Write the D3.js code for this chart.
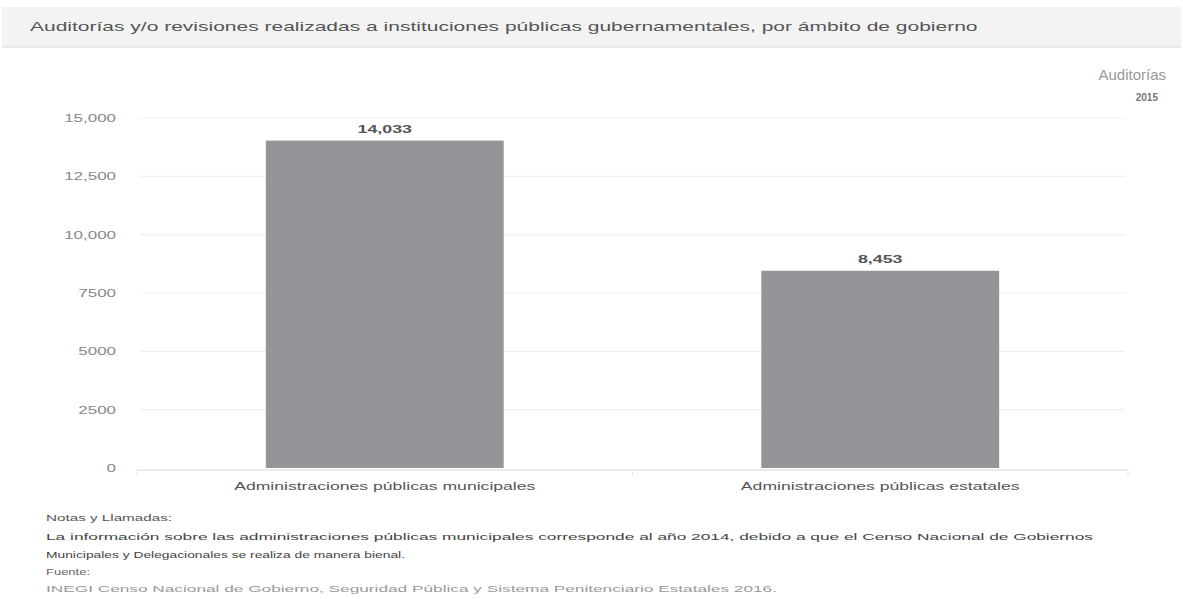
<!DOCTYPE html>
<html>
<head>
<meta charset="utf-8">
<script src="https://cdn.jsdelivr.net/npm/d3@7"></script>
<style>
  html, body { margin: 0; padding: 0; background: #fff; }
  svg { display: block; font-family: "Liberation Sans", Arial, sans-serif; }
</style>
</head>
<body>
<svg id="chart" width="1183" height="599"></svg>
<script>
const title = "Auditorías y/o revisiones realizadas a instituciones públicas gubernamentales, por ámbito de gobierno";
const categories = ["Administraciones públicas municipales", "Administraciones públicas estatales"];
const values = [14033, 8453];
const yTicks = [0, 2500, 5000, 7500, 10000, 12500, 15000];
const yTickLabels = ["0", "2500", "5000", "7500", "10,000", "12,500", "15,000"];
const unitLabel = "Auditorías";
const yearLabel = "2015";
const notes = [
  "Notas y Llamadas:",
  "La información sobre las administraciones públicas municipales corresponde al año 2014, debido a que el Censo Nacional de Gobiernos",
  "Municipales y Delegacionales se realiza de manera bienal.",
  "Fuente:",
  "INEGI Censo Nacional de Gobierno, Seguridad Pública y Sistema Penitenciario Estatales 2016."
];

// ---- layout / style (not data) ----
const noteColors = ["#555", "#444", "#444", "#666", "#9a9a9a"];
const noteWidths = [126, 1047, 359, 44, 731];
const noteYs = [521, 540, 558, 575, 592];

const svg = d3.select("#chart");

// horizontal stretch helper (reference text is wide)
function stretch(sel, factor) {
  sel.each(function() {
    const w = this.getComputedTextLength();
    d3.select(this).attr("textLength", w * factor).attr("lengthAdjust", "spacingAndGlyphs");
  });
}

// Title bar
svg.append("rect").attr("x", 2).attr("y", 7).attr("width", 1179).attr("height", 40).attr("fill", "#f3f3f3");
svg.append("line").attr("x1", 2).attr("x2", 1181).attr("y1", 47).attr("y2", 47).attr("stroke", "#e4e4e4").attr("stroke-width", 1.5);
svg.append("text").attr("x", 30).attr("y", 31).attr("font-size", 13.5).attr("fill", "#555").text(title)
  .call(stretch, 1.555);

// Unit labels
svg.append("text").attr("x", 1166).attr("y", 80).attr("text-anchor", "end").attr("font-size", 15).attr("fill", "#999").text(unitLabel);
svg.append("text").attr("x", 1158).attr("y", 101).attr("text-anchor", "end").attr("font-size", 10).attr("font-weight", "bold").attr("fill", "#777").text(yearLabel);

const x = d3.scaleBand().domain(categories).range([137, 1128]).paddingInner(0.52).paddingOuter(0.26);
const y = d3.scaleLinear().domain([0, 15000]).range([468, 118]);

// Grid
svg.append("g").selectAll("line").data(yTicks.filter(d => d > 0)).join("line")
  .attr("x1", 140).attr("x2", 1125)
  .attr("y1", d => y(d)).attr("y2", d => y(d))
  .attr("stroke", "#f0f0f0").attr("stroke-width", 1.2);

// Y axis labels
const yAxis = d3.axisLeft(y).tickValues(yTicks).tickFormat((d, i) => yTickLabels[i]).tickSize(0).tickPadding(0);
const gy = svg.append("g").attr("transform", "translate(116,0)").call(yAxis);
gy.select(".domain").remove();
gy.selectAll("text").attr("font-size", 11).attr("fill", "#888").attr("font-family", "'Liberation Sans', Arial, sans-serif")
  .call(stretch, 1.54);

// Bars
svg.append("g").selectAll("rect").data(values).join("rect")
  .attr("x", (d, i) => x(categories[i]))
  .attr("y", d => y(d))
  .attr("width", x.bandwidth())
  .attr("height", d => y(0) - y(d))
  .attr("fill", "#949599");

// Value labels
svg.append("g").selectAll("text").data(values).join("text")
  .attr("x", (d, i) => x(categories[i]) + x.bandwidth() / 2)
  .attr("y", d => y(d) - 8)
  .attr("text-anchor", "middle").attr("font-size", 11).attr("font-weight", "bold").attr("fill", "#555")
  .text(d => d3.format(",")(d))
  .call(stretch, 1.62);

// X axis
const axisY = 470;
svg.append("line").attr("x1", 137).attr("x2", 1128).attr("y1", axisY).attr("y2", axisY).attr("stroke", "#e6e6e6").attr("stroke-width", 1.5);
const tickXs = [x.range()[0]].concat(categories.map(c => x(c) + x.bandwidth() + x.step() * x.paddingInner() / 2));
tickXs[tickXs.length - 1] = x.range()[1];
svg.append("g").selectAll("line").data(tickXs).join("line")
  .attr("x1", d => d).attr("x2", d => d).attr("y1", axisY).attr("y2", axisY + 6)
  .attr("stroke", "#e6e6e6").attr("stroke-width", 1);
svg.append("g").selectAll("text").data(categories).join("text")
  .attr("x", d => x(d) + x.bandwidth() / 2)
  .attr("y", 490)
  .attr("text-anchor", "middle").attr("font-size", 11.5).attr("fill", "#555")
  .text(d => d)
  .call(stretch, 1.53);

// Notes
svg.append("g").selectAll("text").data(notes).join("text")
  .attr("x", 46).attr("y", (d, i) => noteYs[i])
  .attr("font-size", 9.5).attr("fill", (d, i) => noteColors[i])
  .attr("textLength", (d, i) => noteWidths[i]).attr("lengthAdjust", "spacingAndGlyphs")
  .text(d => d);
</script>
</body>
</html>
